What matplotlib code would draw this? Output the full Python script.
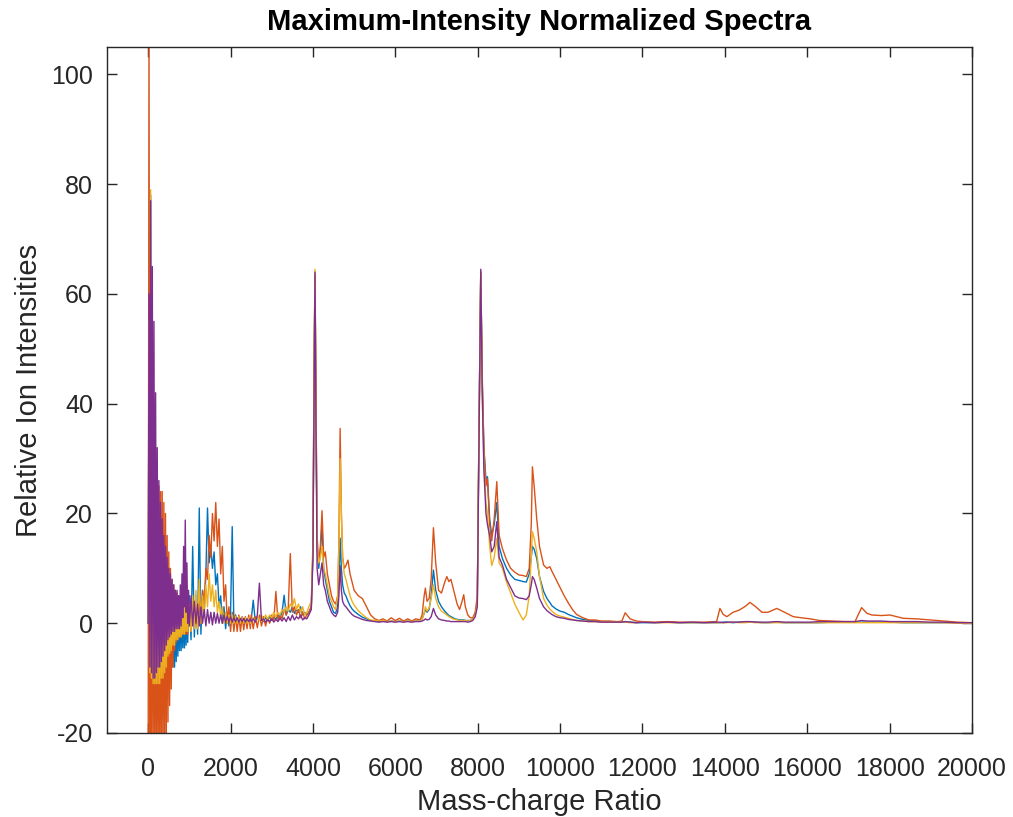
import numpy as np
import matplotlib
matplotlib.use('Agg')
from matplotlib import pyplot as plt

plt.rcParams['font.family'] = ['Liberation Sans', 'DejaVu Sans']
plt.rcParams['axes.unicode_minus'] = False

# m/z grid: dense at the noisy start, then hand picked points around the peaks
mz_low = list(range(0, 1000, 20)) + list(range(1000, 2500, 40))
mz_mid = list(range(2500, 3900, 50))
mz_peaks = [3900, 3960, 4000, 4030, 4050, 4070, 4100, 4140, 4180, 4220,
            4260, 4300, 4350, 4400, 4450, 4500, 4550, 4600, 4630, 4660,
            4690, 4720, 4760, 4800, 4850, 4900, 4950, 5000, 5100, 5200,
            5300, 5400, 5500, 5600, 5700, 5800, 5900, 6000, 6100, 6200,
            6300, 6400, 6500, 6600, 6650, 6700, 6730, 6770, 6820, 6870,
            6925, 6980, 7050, 7120, 7200, 7250, 7300, 7350, 7400, 7450,
            7500, 7560, 7620, 7660, 7700, 7760, 7820, 7880, 7940, 7990,
            8030, 8074, 8110, 8150, 8200, 8236, 8290, 8340, 8400, 8463,
            8520, 8600, 8700, 8800, 8900, 9000, 9100, 9180, 9250, 9300,
            9328, 9370, 9433, 9500, 9600, 9680, 9750, 9800, 9900, 10000,
            10100, 10200, 10300, 10400, 10550, 10700, 10850, 11000, 11200, 11400,
            11500, 11580, 11700, 11850, 12000, 12300, 12600, 12900, 13200, 13500,
            13800, 13880, 13960, 14050, 14200, 14350, 14500, 14610, 14750, 14900,
            15050, 15260, 15450, 15660, 15850, 16070, 16300, 16600, 16900, 17160,
            17320, 17450, 17570, 17800, 18010, 18330, 18650, 18980, 19300, 19650,
            20000]

# spectrum 1 (blue)
blue_low = [0, 50, -8, 78, -10, 55, -11, 40, -12, 25,
            -12, 18, -11, 14, -10, 12, -9, 11, -9, 10,
            -8, 9, -8, 8, -8, 8, -8, 7, -8, 6,
            -8, 6, -8, 5, -7, 5, -6, 5, -5, 5,
            -5, 4, -4.5, 4, -4.5, 4, -4, 4, -3.5, 4.5,
            5, -3, 14, -2.5, 5,
            -2, 21, -2, 6, 2, 9, 21, 11, 14, 10,
            13, 7, 9, 3, 5, 0, 3, -1, 2, -0.5,
            2, 17.6, 0, 1.5, -0.5, 1.2, -0.3, 1, 0, 1,
            0, 1, 0]
blue_mid = [0.5, 4.2, 0.3, 1, 0.5, 1.2, 0.3, 1, 0.5, 1.2,
            0.5, 1, 0.8, 1.5, 1, 2, 5.1, 1.5, 2.5, 2,
            3, 1.8, 2.5, 2, 3, 1.5, 2, 1.5]
blue_peaks = [2, 3, 13, 48, 63.5, 43, 14, 10, 13, 18,
              10, 8, 6, 4, 3, 2, 1.8, 3, 8, 15.5,
              10, 7, 5.5, 5, 4, 3.2, 2.6, 2.2, 1.6, 1.1,
              0.8, 0.5, 0.4, 0.3, 0.4, 0.3, 0.4, 0.3, 0.4, 0.3,
              0.4, 0.3, 0.4, 0.4, 0.8, 1.8, 2.5, 2, 2.5, 5,
              9.7, 6, 4, 3, 2.2, 1.8, 1.4, 1.2, 1, 0.8,
              0.7, 0.6, 0.6, 0.6, 0.5, 0.5, 0.5, 0.7, 1.8, 4,
              34, 64, 44, 32, 26, 26.7, 19, 16, 18, 22,
              14, 11.8, 10, 8.8, 8, 7.8, 7.6, 7.5, 9, 12,
              14, 13.5, 11.8, 8.5, 5.8, 4.5, 3.8, 3.2, 2.6, 2.2,
              2, 1.6, 1.3, 1, 0.7, 0.5, 0.4, 0.3, 0.3, 0.2,
              0.2, 0.2, 0.2, 0.1, 0.1, 0.1, 0.2, 0.1, 0.1, 0.1,
              0.1, 0.1, 0.2, 0.2, 0.1, 0.2, 0.2, 0.2, 0.2, 0.1,
              0.1, 0.2, 0.1, 0.1, 0.1, 0.1, 0.1, 0.2, 0.2, 0.2,
              0.2, 0.2, 0.2, 0.2, 0.2, 0.1, 0.1, 0.1, 0.1, 0.1,
              0.0]

# spectrum 2 (orange)
orange_low = [-25, 112, -25, 60, -25, 40, -25, 30, -25, 26,
              -25, 25, -25, 25, -25, 24, -25, 24, -22, 22,
              -25, 20, -20, 16, -18, 13, -15, 10, -12, 8,
              -8, 7, -5, 6, -3.5, 5.5, -3, 5, -2.5, 4.5,
              -2.5, 4, -2, 4, -2, 4, -2, 3.5, -2, 3.5,
              3.5, -1.5, 3, -1, 3,
              -1, 4, 0, 6, 3, 10, 8, 16, 12, 20,
              15, 22, 14, 19, 9, 14, 4, 7, 0, 3,
              -1.5, 2, -1.5, 1.5, -1.5, 1.5, -1.5, 1.2, -1.2, 1.2,
              -1, 1.5, -1]
orange_mid = [1.5, -1, 1.2, -0.8, 1.5, -0.5, 1.2, -0.5, 1, 0,
              1.5, 0.5, 5.8, 0.5, 1.5, 0.8, 2.5, 1.5, 2.7, 12.7,
              2, 3, 1.5, 2.5, 1, 2, 0.8, 1.5]
orange_peaks = [2, 3, 14, 50, 63, 45, 16, 11, 14, 20.5,
                12, 13, 9, 7, 5, 4, 3.5, 5, 15, 35.5,
                20, 12, 10, 10.5, 11.5, 9, 7.5, 6, 5, 4.5,
                3, 1.5, 0.8, 0.5, 0.8, 0.4, 1.0, 0.5, 0.9, 0.4,
                0.8, 0.4, 0.8, 0.6, 1.5, 5, 6.4, 4, 4.5, 8,
                17.4, 11, 6, 5.5, 7.5, 8.5, 7.6, 8, 6.5, 5,
                3.5, 2.5, 4, 5.2, 3, 1.5, 1, 1, 2, 5,
                35, 64, 45, 32, 25, 26.4, 18, 15, 19, 25.8,
                16, 13.6, 11.5, 10, 9.3, 8.8, 8.7, 8.5, 10, 18,
                28.5, 25, 19, 14, 10.6, 10, 10.3, 9.5, 8, 6.5,
                5, 3.7, 2.5, 1.6, 1.0, 0.6, 0.6, 0.4, 0.4, 0.3,
                0.4, 1.9, 0.8, 0.4, 0.3, 0.2, 0.3, 0.2, 0.2, 0.2,
                0.3, 2.7, 1.6, 1.2, 2.0, 2.4, 3.1, 3.8, 3.0, 2.0,
                2.0, 2.7, 2.0, 1.2, 1.0, 0.8, 0.5, 0.4, 0.3, 0.3,
                2.85, 1.8, 1.5, 1.4, 1.5, 0.9, 0.8, 0.6, 0.4, 0.2,
                0.1]

# spectrum 3 (yellow)
yellow_low = [0, 55, -9, 79, -10, 50, -11, 35, -11, 22,
              -11, 18, -11, 14, -11, 12, -10, 10, -10, 9,
              -9, 8, -8, 7, -6, 6, -5.5, 5, -5, 4.5,
              -4, 4, -4, 3.5, -3, 3.5, -3, 3, -2.5, 3,
              -2.5, 3, -2, 3.5, -2, 4, -1.5, 3, -1.5, 3,
              3, -1.5, 5, -1, 6,
              -1, 8, 0, 5, 1, 7, 3, 9, 4, 7,
              3, 6, 2, 4, 1, 3, 0, 2, 0, 1.5,
              0, 1.5, 0, 1.2, 0, 1.2, 0, 1, 0, 1,
              0, 1, 0]
yellow_mid = [0.5, 1, 0.3, 1.2, 0.5, 1.5, 0.5, 1.5, 0.8, 1.5,
              1, 2, 1.2, 2, 1.5, 2.5, 2, 3, 2.2, 3.5,
              3, 4.5, 2.5, 3.5, 2, 3, 1.5, 2]
yellow_peaks = [3, 4, 15, 50, 64.5, 44, 14, 11, 12, 14,
                10, 9, 7, 5, 4, 3, 2.5, 5, 14, 30,
                20, 12, 9, 8, 6.5, 5, 4, 3.3, 2.3, 1.6,
                1, 0.6, 0.5, 0.4, 0.5, 0.3, 0.4, 0.3, 0.4, 0.3,
                0.4, 0.3, 0.4, 0.4, 0.8, 1.8, 3, 2.2, 2.8, 4.5,
                7, 4.5, 3, 2.2, 1.8, 1.5, 1.2, 1, 0.8, 0.7,
                0.6, 0.5, 0.5, 0.5, 0.5, 0.4, 0.5, 0.7, 1.5, 3.5,
                34, 64, 42, 29, 22, 20, 14, 10.5, 12, 15.5,
                11, 10, 7.5, 5.5, 3.5, 2, 0.6, 1.5, 5, 12,
                16.7, 15.5, 13, 8.5, 4.5, 3.3, 2.6, 2.2, 1.6, 1.3,
                1.1, 0.9, 0.7, 0.5, 0.4, 0.3, 0.3, 0.2, 0.2, 0.2,
                0.2, 0.2, 0.1, 0.1, 0.2, 0.1, 0.1, 0.1, 0.1, 0.1,
                0.1, 0.1, 0.1, 0.1, 0.2, 0.1, 0.1, 0.2, 0.1, 0.1,
                0.1, 0.1, 0.1, 0.1, 0.1, 0.1, 0.1, 0.1, 0.1, 0.1,
                0.1, 0.1, 0.1, 0.1, 0.1, 0.1, 0.1, 0.1, 0.1, 0.0,
                0.0]

# spectrum 4 (purple)
purple_low = [0, 60, -8, 77, -9, 65, -10, 55, -10, 42,
              -9, 32, -8, 26, -8, 22, -7, 19, -6, 16,
              -5, 14, -4, 12, -3, 10, -2.5, 9, -2, 8,
              -1.5, 7, -1.5, 6, -1, 6, -1, 5, -1, 7,
              -0.5, 9, 1, 14, 3, 18.8, 2, 11, 0, 6,
              -0.5, 5, -0.5, 4, 0,
              3.5, -0.5, 3, 0, 2.5, -0.5, 2.5, 0, 2, -0.3,
              2, 0, 1.8, 0, 1.5, 0, 1.5, 0.2, 1.3, 0.2,
              1.2, 0.2, 1.0, 0.3, 1.0, 0.2, 0.9, 0.3, 0.9, 0.2,
              0.8, 0.3, 0.8]
purple_mid = [0.3, 0.8, 0.2, 1.5, 7.3, 0.5, 0.8, 0.2, 0.6, 0.3,
              0.8, 0.2, 0.7, 0.3, 0.9, 0.4, 1.0, 0.3, 1.2, 0.5,
              1.5, 0.6, 1.2, 0.8, 1.5, 0.6, 1.0, 0.8]
purple_peaks = [1.5, 2.5, 12, 45, 64, 40, 10, 7, 9, 11,
                7, 6, 4, 3, 2, 1.5, 1.2, 2, 5, 10.5,
                6, 4, 3.3, 3, 2.5, 2, 1.6, 1.3, 1, 0.7,
                0.5, 0.4, 0.3, 0.2, 0.3, 0.2, 0.3, 0.2, 0.3, 0.2,
                0.3, 0.2, 0.3, 0.3, 0.4, 0.6, 0.8, 0.6, 0.7, 1.2,
                2.7, 1.5, 0.8, 0.6, 0.5, 0.4, 0.4, 0.3, 0.3, 0.3,
                0.3, 0.3, 0.3, 0.3, 0.3, 0.2, 0.3, 0.5, 1.2, 3,
                33, 64.5, 42, 28, 20, 18, 16, 13, 14, 18.5,
                12, 10.6, 8, 6.5, 5, 4.6, 4.5, 4.3, 5, 7,
                8.5, 8, 6.4, 4.5, 3, 2.3, 1.9, 1.6, 1.2, 1,
                0.9, 0.7, 0.6, 0.5, 0.4, 0.3, 0.3, 0.2, 0.2, 0.2,
                0.2, 0.3, 0.2, 0.1, 0.2, 0.1, 0.2, 0.1, 0.2, 0.1,
                0.2, 0.2, 0.1, 0.2, 0.2, 0.2, 0.3, 0.3, 0.2, 0.2,
                0.2, 0.3, 0.2, 0.2, 0.2, 0.2, 0.3, 0.3, 0.3, 0.3,
                0.5, 0.4, 0.4, 0.4, 0.3, 0.3, 0.3, 0.2, 0.2, 0.1,
                0.1]

mz = np.array(mz_low + mz_mid + mz_peaks, dtype=float)
spectra = [
    (blue_low + blue_mid + blue_peaks, '#0072BD'),
    (orange_low + orange_mid + orange_peaks, '#D95319'),
    (yellow_low + yellow_mid + yellow_peaks, '#EDB120'),
    (purple_low + purple_mid + purple_peaks, '#7E2F8E'),
]

fig = plt.figure(figsize=(10.13, 8.17), dpi=100)
ax = fig.add_axes([107 / 1013, 84 / 817, 865 / 1013, 686 / 817])

for vals, col in spectra:
    ax.plot(mz, np.array(vals, dtype=float), color=col, lw=1.0)

ax.set_xlim(-1000, 20000)
ax.set_ylim(-20, 105)
ax.set_xticks(np.arange(0, 20001, 2000))
ax.set_yticks(np.arange(-20, 101, 20))

gray = '#262626'
for s in ax.spines.values():
    s.set_color(gray)
    s.set_linewidth(1.0)
ax.tick_params(direction='in', length=7, width=1.0, colors=gray,
               labelsize=18, top=True, right=True)
ax.tick_params(axis='x', pad=17)
ax.tick_params(axis='y', pad=10)

ax.set_title('Maximum-Intensity Normalized Spectra', fontsize=21,
             fontweight='bold', color='black', pad=12)
ax.set_xlabel('Mass-charge Ratio', fontsize=21, color=gray, labelpad=5)
ax.set_ylabel('Relative Ion Intensities', fontsize=21, color=gray, labelpad=6)

fig.savefig('out.png', dpi=100)
